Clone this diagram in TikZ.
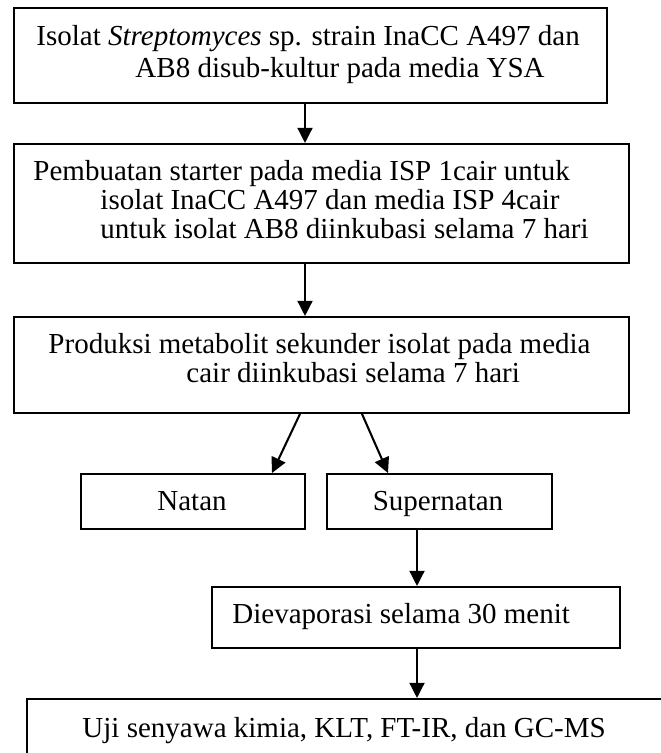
\documentclass[tikz,border=0pt]{standalone}
\usepackage{fontspec}
\setmainfont{Liberation Serif}
\usetikzlibrary{arrows.meta}
\tikzset{
  box/.style={draw, line width=0.8pt, inner sep=0pt, anchor=north west},
  txt/.style={inner sep=0pt, anchor=base west, font=\fontsize{12}{14}\selectfont},
  ctxt/.style={inner sep=0pt, anchor=base, font=\fontsize{12}{14}\selectfont},
  arr/.style={line width=0.85pt, -{Triangle[length=6.3pt, width=6.2pt]}}
}
\begin{document}
\begin{tikzpicture}[x=0.4138pt, y=-0.4138pt]
\useasboundingbox (0,0) rectangle (661,753);
\clip (0,0) rectangle (661,753);
% boxes
\node[box, minimum width=593*0.4138pt, minimum height=95*0.4138pt] (b1) at (13,7) {};
\node[box, minimum width=615*0.4138pt, minimum height=119*0.4138pt] (b2) at (13,143) {};
\node[box, minimum width=615*0.4138pt, minimum height=96*0.4138pt] (b3) at (13,316) {};
\node[box, minimum width=224*0.4138pt, minimum height=55*0.4138pt] (natan) at (80,473) {};
\node[box, minimum width=225*0.4138pt, minimum height=55*0.4138pt] (super) at (326,473) {};
\node[box, minimum width=408*0.4138pt, minimum height=61*0.4138pt] (diev) at (211,586) {};
\node[box, minimum width=700*0.4138pt, minimum height=100*0.4138pt] (uji) at (26,698) {};
% texts
\node[txt] (t1a) at (36,45) {Isolat \textit{Streptomyces} sp. strain InaCC A497 dan};
\node[txt] (t1b) at (135,78) {AB8 disub-kultur pada media YSA};
\node[txt] (t2a) at (33,180) {Pembuatan starter pada media ISP 1cair untuk};
\node[txt] (t2b) at (100,209) {isolat InaCC A497 dan media ISP 4cair};
\node[txt] (t2c) at (100,238) {untuk isolat AB8 diinkubasi selama 7 hari};
\node[txt] (t3a) at (48,353) {Produksi metabolit sekunder isolat pada media};
\node[txt] (t3b) at (186,382) {cair diinkubasi selama 7 hari};
\node[ctxt] (tn) at (192,510) {Natan};
\node[ctxt] (ts) at (438,510) {Supernatan};
\node[txt] (td) at (232,623) {Dievaporasi selama 30 menit};
\node[txt] (tu) at (82,737) {Uji senyawa kimia, KLT, FT-IR, dan GC-MS};
% connectors
\coordinate (c1) at (305,0);
\coordinate (l0) at (300,0);
\coordinate (l1) at (272,0);
\coordinate (r0) at (362,0);
\coordinate (r1) at (388,0);
\coordinate (c2) at (417,0);
\draw[arr] (b1.south -| c1) -- (b2.north -| c1);
\draw[arr] (b2.south -| c1) -- (b3.north -| c1);
\draw[arr] (b3.south -| l0) -- (natan.north -| l1);
\draw[arr] (b3.south -| r0) -- (super.north -| r1);
\draw[arr] (super.south -| c2) -- (diev.north -| c2);
\draw[arr] (diev.south -| c2) -- (uji.north -| c2);
\end{tikzpicture}
\end{document}
